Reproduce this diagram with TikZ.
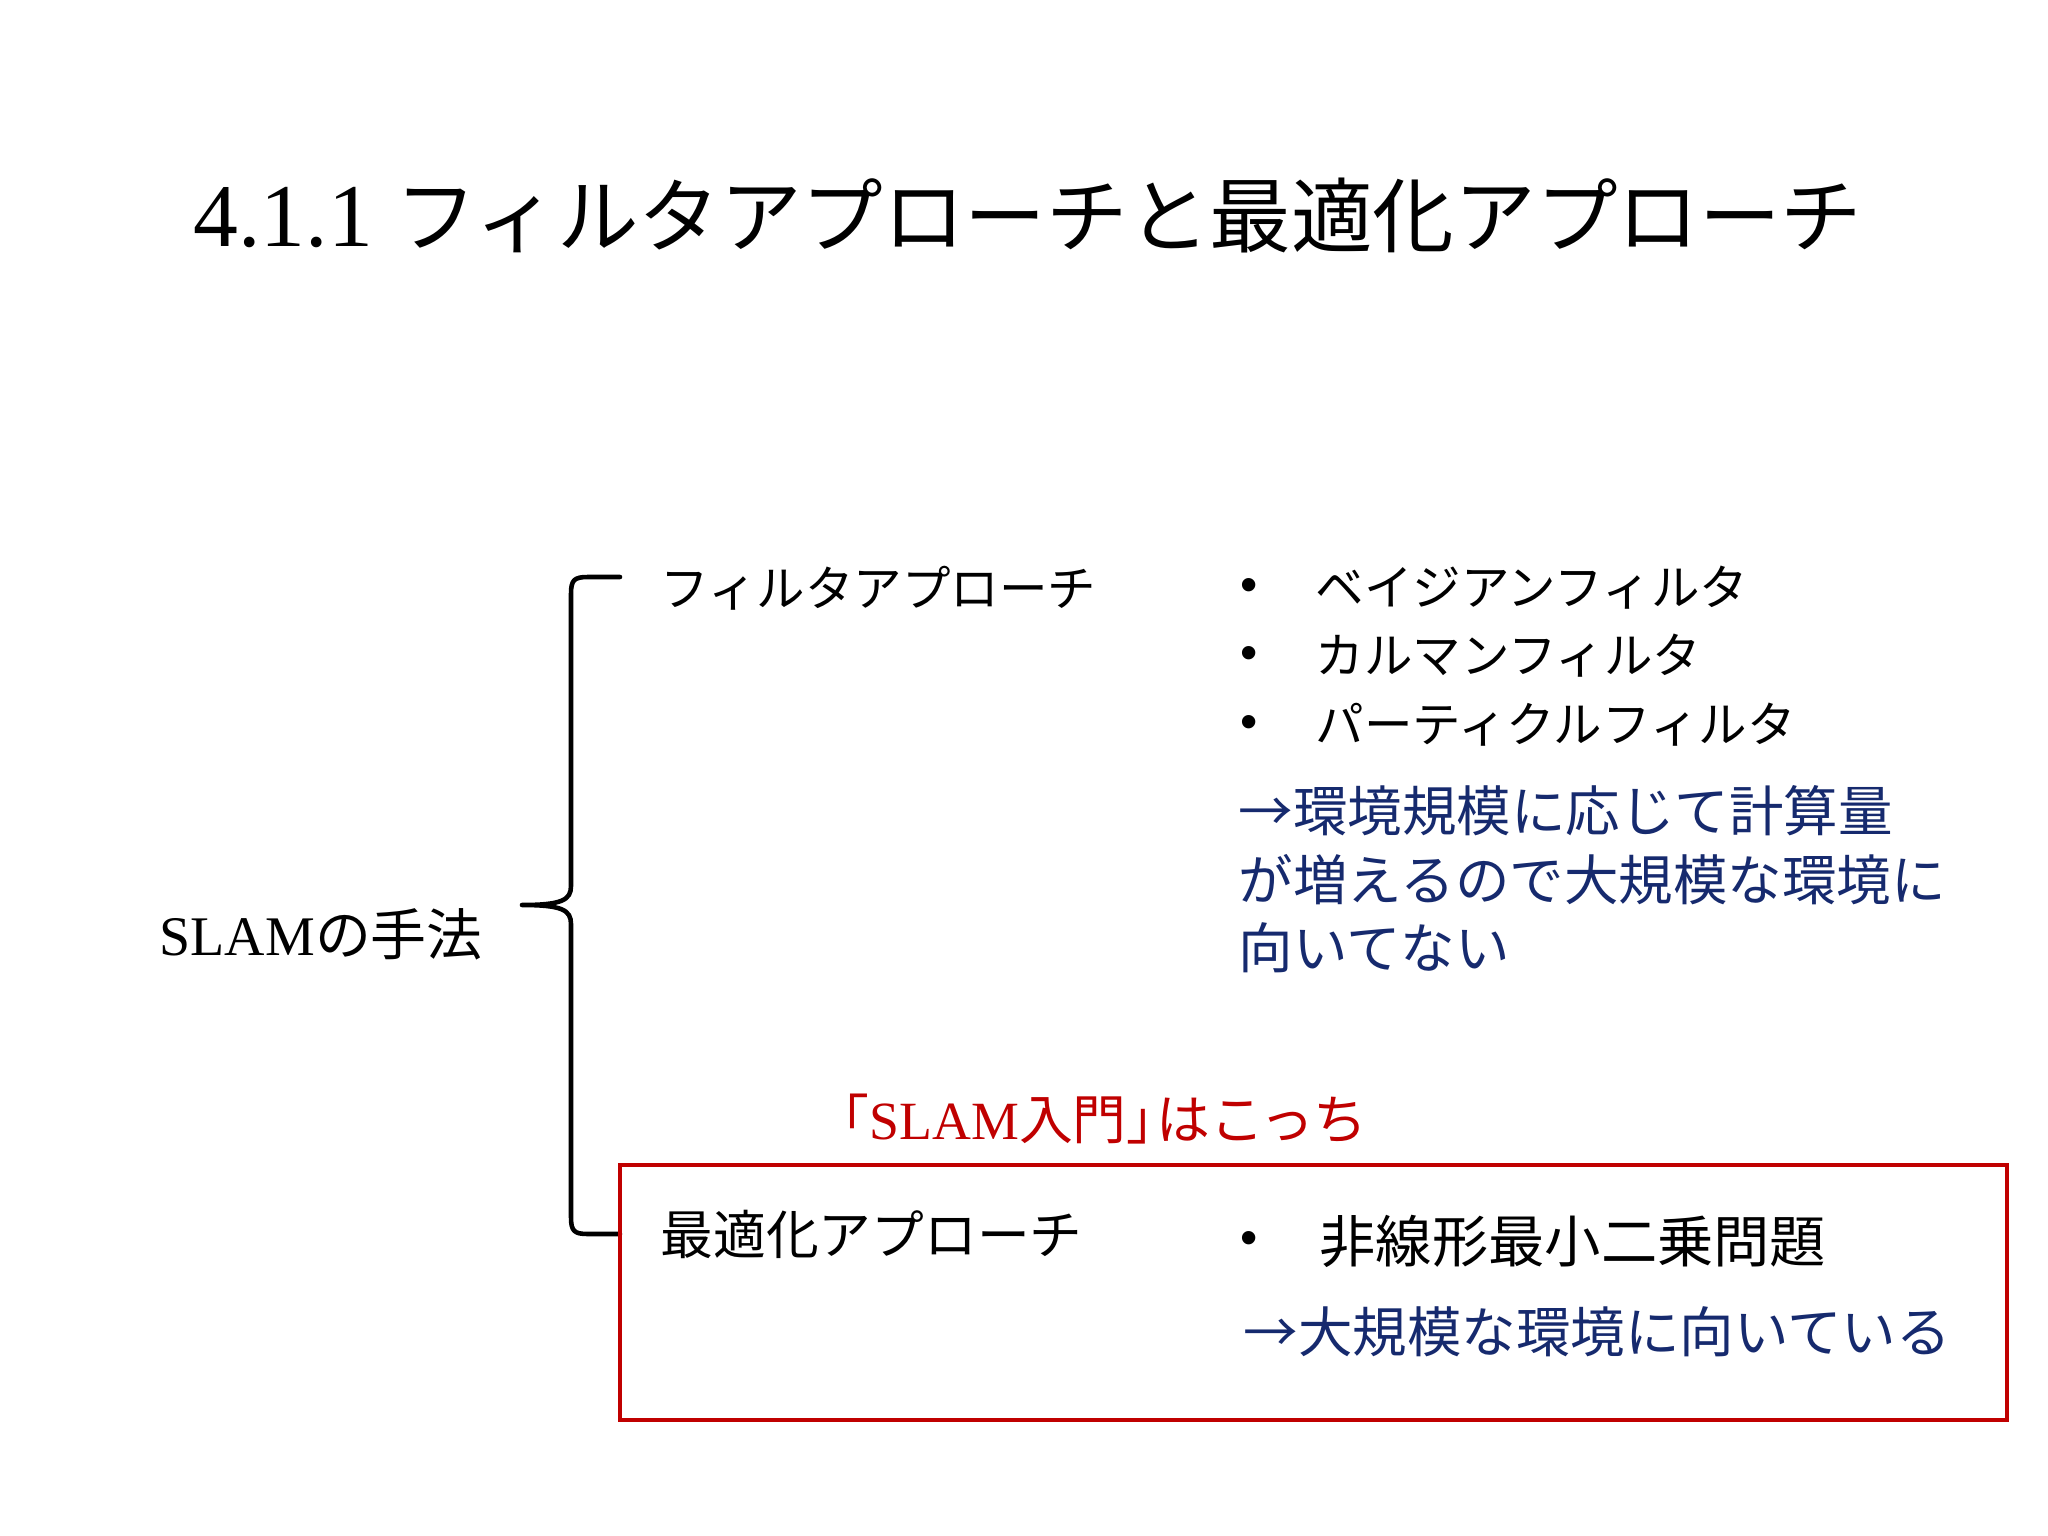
\documentclass[tikz,border=0pt]{standalone}
\usepackage{fontspec}
\setmainfont{Liberation Serif}
\newfontfamily\jp{Noto Sans CJK JP}
\newfontfamily\bulletfont{Liberation Sans}
\definecolor{navy}{RGB}{22,42,110}
\definecolor{boxred}{RGB}{192,0,0}
\tikzset{
  lbl/.style={inner sep=0pt, anchor=west},
  item/.style={lbl, font=\jp\fontsize{13.8pt}{16pt}\selectfont},
  bul/.style={inner sep=0pt, font=\bulletfont\fontsize{14pt}{16pt}\selectfont},
  note/.style={lbl, text=navy, font=\jp\fontsize{15.5pt}{19.5pt}\selectfont},
  bracestyle/.style={line width=1.3pt, line cap=round, line join=round},
}
\begin{document}
\begin{tikzpicture}[x=0.01cm, y=-0.01cm]
\useasboundingbox (0,0) rectangle (2048,1536);
\fill[white] (0,0) rectangle (2048,1536);

% title
\node[lbl, font=\fontsize{25.5pt}{28pt}\selectfont] (title) at (193,215) {4.1.1 {\jp\fontsize{23.2pt}{26pt}\selectfont フィルタアプローチと最適化アプローチ}};

% left label
\node[lbl, font=\fontsize{15.9pt}{18pt}\selectfont] (method) at (159,934) {SLAM{\jp の手法}};

% brace
\draw[bracestyle] (620,577) -- (588,577) .. controls (574,577) and (571,580) .. (571,594)
  -- (571,886) .. controls (571,900) and (562,905) .. (522,905)
  .. controls (562,905) and (571,910) .. (571,924)
  -- (571,1217) .. controls (571,1231) and (574,1234) .. (588,1234) -- (620,1234);

% filter approach
\node[item] (filt) at (660,588) {フィルタアプローチ};
\node[bul] (b1) at (1249,590) {•};
\node[bul] (b2) at (1249,658) {•};
\node[bul] (b3) at (1249,727) {•};
\node[item] (i1) at (1315,588) {ベイジアンフィルタ};
\node[item] (i2) at (1315,656) {カルマンフィルタ};
\node[item] (i3) at (1315,725) {パーティクルフィルタ};
\node[note, anchor=north west, align=left] (n1) at (1238,785) {→環境規模に応じて計算量\\が増えるので大規模な環境に\\向いてない};

% red label and box
\node[lbl, text=boxred, font=\fontsize{15.3pt}{18pt}\selectfont] (red) at (815,1119) {{\jp 「}SLAM{\jp 入門」\kern-0.45em はこっち}};
\draw[boxred, line width=1.2pt] (620,1165) rectangle (2007,1420);

% optimisation approach
\node[lbl, font=\jp\fontsize{15pt}{18pt}\selectfont] (opt) at (660,1234) {最適化アプローチ};
\node[bul] (b4) at (1249,1243) {•};
\node[lbl, font=\jp\fontsize{16pt}{18pt}\selectfont] (i4) at (1319,1241) {非線形最小二乗問題};
\node[note] (n2) at (1243,1332) {→大規模な環境に向いている};
\end{tikzpicture}
\end{document}
